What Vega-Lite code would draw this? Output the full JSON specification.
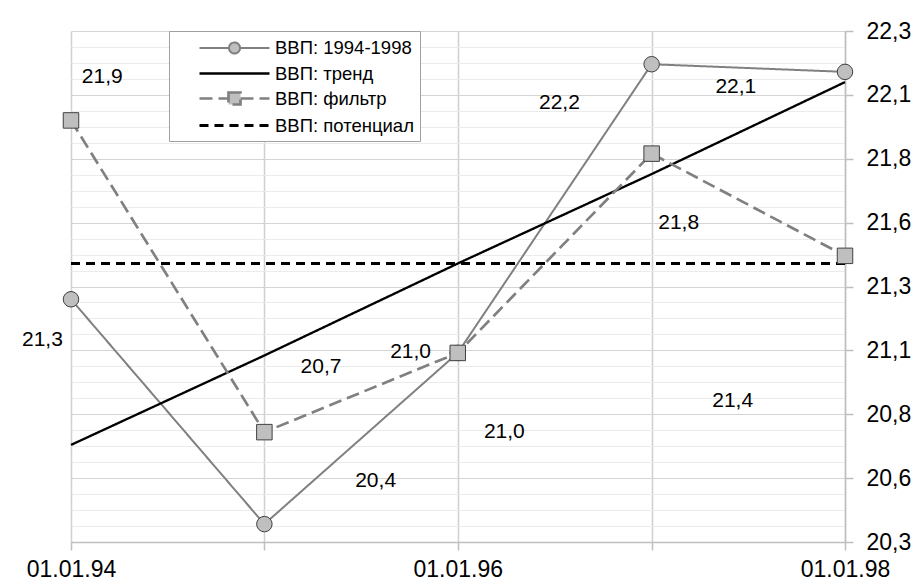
{
  "$schema": "https://vega.github.io/schema/vega-lite/v6.json",
  "autosize": {"type": "none"},
  "width": 774,
  "height": 511,
  "padding": {"left": 71, "top": 31, "right": 74, "bottom": 41},
  "background": "white",
  "config": {
    "font": "Liberation Sans",
    "view": {"stroke": null},
    "axis": {"labelFont": "Liberation Sans", "labelColor": "#000000", "labelFontSize": 23, "title": null}
  },
  "datasets": {
    "main": [
      {"date": "1994-01-01", "series": "ВВП: 1994-1998", "value": 21.25},
      {"date": "1995-01-01", "series": "ВВП: 1994-1998", "value": 20.37},
      {"date": "1996-01-01", "series": "ВВП: 1994-1998", "value": 21.04},
      {"date": "1997-01-01", "series": "ВВП: 1994-1998", "value": 22.17},
      {"date": "1998-01-01", "series": "ВВП: 1994-1998", "value": 22.14},
      {"date": "1994-01-01", "series": "ВВП: тренд", "value": 20.68},
      {"date": "1995-01-01", "series": "ВВП: тренд", "value": 21.03},
      {"date": "1996-01-01", "series": "ВВП: тренд", "value": 21.39},
      {"date": "1997-01-01", "series": "ВВП: тренд", "value": 21.74},
      {"date": "1998-01-01", "series": "ВВП: тренд", "value": 22.1},
      {"date": "1994-01-01", "series": "ВВП: фильтр", "value": 21.95},
      {"date": "1995-01-01", "series": "ВВП: фильтр", "value": 20.73},
      {"date": "1996-01-01", "series": "ВВП: фильтр", "value": 21.04},
      {"date": "1997-01-01", "series": "ВВП: фильтр", "value": 21.82},
      {"date": "1998-01-01", "series": "ВВП: фильтр", "value": 21.42},
      {"date": "1994-01-01", "series": "ВВП: потенциал", "value": 21.39},
      {"date": "1995-01-01", "series": "ВВП: потенциал", "value": 21.39},
      {"date": "1996-01-01", "series": "ВВП: потенциал", "value": 21.39},
      {"date": "1997-01-01", "series": "ВВП: потенциал", "value": 21.39},
      {"date": "1998-01-01", "series": "ВВП: потенциал", "value": 21.39}
    ],
    "labels": [
      {"date": "1994-03-01", "value": 22.12, "text": "21,9"},
      {"date": "1993-11-08", "value": 21.09, "text": "21,3"},
      {"date": "1995-04-18", "value": 20.985, "text": "20,7"},
      {"date": "1995-07-30", "value": 20.54, "text": "20,4"},
      {"date": "1995-10-04", "value": 21.045, "text": "21,0"},
      {"date": "1996-03-29", "value": 20.73, "text": "21,0"},
      {"date": "1996-07-11", "value": 22.02, "text": "22,2"},
      {"date": "1997-02-21", "value": 21.55, "text": "21,8"},
      {"date": "1997-06-09", "value": 22.08, "text": "22,1"},
      {"date": "1997-06-03", "value": 20.85, "text": "21,4"}
    ]
  },
  "resolve": {"axis": {"y": "independent"}},
  "layer": [
    {
      "data": {"name": "main"},
      "mark": {"type": "line", "clip": false},
      "encoding": {
        "x": {
          "field": "date", "type": "temporal",
          "scale": {"type": "utc", "domain": [{"year": 1994, "month": 1, "date": 1, "utc": true}, {"year": 1998, "month": 1, "date": 1, "utc": true}], "nice": false},
          "axis": {
            "orient": "bottom",
            "values": [
              {"year": 1994, "month": 1, "date": 1, "utc": true},
              {"year": 1995, "month": 1, "date": 1, "utc": true},
              {"year": 1996, "month": 1, "date": 1, "utc": true},
              {"year": 1997, "month": 1, "date": 1, "utc": true},
              {"year": 1998, "month": 1, "date": 1, "utc": true}
            ],
            "labelExpr": "utcyear(datum.value) % 2 == 0 ? utcFormat(datum.value, '%d.%m.%y') : ''",
            "labelOverlap": false, "labelFlush": false, "labelBound": false,
            "grid": true, "gridColor": "#d0d0d0", "gridWidth": 1.5,
            "domainColor": "#bfbfbf", "domainWidth": 1.5,
            "tickColor": "#bfbfbf", "tickSize": 8, "tickWidth": 1.5,
            "labelPadding": 8
          }
        },
        "y": {
          "field": "value", "type": "quantitative",
          "scale": {"domain": [20.3, 22.3], "nice": false, "zero": false},
          "axis": {
            "orient": "right",
            "values": [20.3, 20.55, 20.8, 21.05, 21.3, 21.55, 21.8, 22.05, 22.3],
            "labelExpr": "replace(format(datum.value + 0.001, '.1f'), '.', ',')",
            "grid": true, "gridColor": "#d4d4d4", "gridWidth": 1,
            "domainColor": "#bfbfbf", "domainWidth": 1.5,
            "tickColor": "#bfbfbf", "tickSize": 8, "tickWidth": 1.5,
            "labelPadding": 13, "labelOverlap": false, "labelFlush": false, "labelBound": false
          }
        },
        "color": {
          "field": "series", "type": "nominal",
          "scale": {
            "domain": ["ВВП: 1994-1998", "ВВП: тренд", "ВВП: фильтр", "ВВП: потенциал"],
            "range": ["#808080", "#000000", "#808080", "#000000"]
          },
          "legend": {
            "title": null,
            "orient": "none",
            "legendX": 98,
            "legendY": 0,
            "direction": "vertical",
            "strokeColor": "#a0a0a0",
            "fillColor": "#ffffff",
            "padding": 6,
            "symbolSize": 400,
            "symbolOffset": 48,
            "labelOffset": 29,
            "labelFontSize": 18.5,
            "labelFont": "Liberation Sans",
            "labelColor": "#000000",
            "rowPadding": 4,
            "labelLimit": 300,
            "encode": {
              "symbols": {
                "update": {
                  "shape": {"signal": "datum.value == 'ВВП: 1994-1998' ? 'M-3.5,0H-0.55M0.55,0H3.5M-0.55,0A0.55,0.55 0 1,0 0.55,0A0.55,0.55 0 1,0 -0.55,0Z' : datum.value == 'ВВП: фильтр' ? 'M-3.5,0H-0.6M0.6,0H3.5M-0.6,-0.6H0.6V0.6H-0.6Z' : 'M-3.5,0H3.5'"},
                  "fill": {"value": "#bfbfbf"},
                  "strokeWidth": {"signal": "datum.value == 'ВВП: тренд' || datum.value == 'ВВП: потенциал' ? 3 : 2"},
                  "strokeDash": {"signal": "datum.value == 'ВВП: фильтр' ? [10, 5] : datum.value == 'ВВП: потенциал' ? [10, 8] : [1, 0]"}
                }
              }
            }
          }
        },
        "strokeDash": {
          "field": "series", "type": "nominal",
          "scale": {
            "domain": ["ВВП: 1994-1998", "ВВП: тренд", "ВВП: фильтр", "ВВП: потенциал"],
            "range": [[1, 0], [1, 0], [13, 6], [9, 6]]
          },
          "legend": null
        },
        "strokeWidth": {
          "field": "series", "type": "nominal",
          "scale": {
            "domain": ["ВВП: 1994-1998", "ВВП: тренд", "ВВП: фильтр", "ВВП: потенциал"],
            "range": [2, 3, 2, 3]
          },
          "legend": null
        }
      }
    },
    {
      "data": {"name": "main"},
      "transform": [{"filter": "datum.series == 'ВВП: 1994-1998' || datum.series == 'ВВП: фильтр'"}],
      "mark": {"type": "point", "filled": true, "fill": "#bfbfbf", "stroke": "#404040", "strokeWidth": 1, "size": 240, "opacity": 1, "clip": false},
      "encoding": {
        "x": {"field": "date", "type": "temporal"},
        "y": {
          "field": "value", "type": "quantitative",
          "axis": {
            "orient": "left",
            "values": [20.3625, 20.425, 20.4875, 20.6125, 20.675, 20.7375, 20.8625, 20.925, 20.9875, 21.1125, 21.175, 21.2375, 21.3625, 21.425, 21.4875, 21.6125, 21.675, 21.7375, 21.8625, 21.925, 21.9875, 22.1125, 22.175, 22.2375],
            "labels": false, "ticks": false, "domain": false,
            "grid": true, "gridColor": "#ebebeb", "gridWidth": 1
          }
        },
        "shape": {
          "field": "series", "type": "nominal",
          "scale": {"domain": ["ВВП: 1994-1998", "ВВП: фильтр"], "range": ["circle", "square"]},
          "legend": null
        }
      }
    },
    {
      "data": {"name": "labels"},
      "mark": {"type": "text", "fontSize": 21, "font": "Liberation Sans", "color": "#000000", "align": "center", "baseline": "middle", "clip": false},
      "encoding": {
        "x": {"field": "date", "type": "temporal"},
        "y": {"field": "value", "type": "quantitative", "axis": null},
        "text": {"field": "text", "type": "nominal"}
      }
    }
  ]
}
